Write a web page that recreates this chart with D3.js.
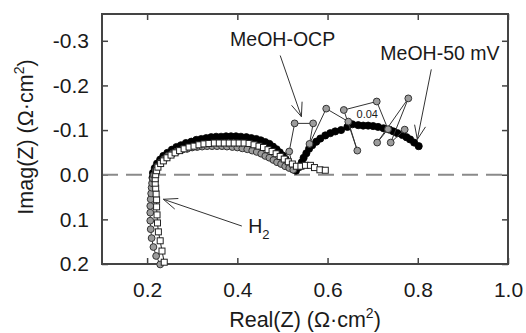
<!DOCTYPE html>
<html>
<head>
<meta charset="utf-8">
<script src="https://cdn.jsdelivr.net/npm/d3@7"></script>
<style>
  body { margin: 0; background: #fff; }
  text { font-family: "Liberation Sans", Arial, Helvetica, sans-serif; fill: #1a1a1a; }
</style>
</head>
<body>
<svg id="chart" width="526" height="333"></svg>
<script>
// Axis ticks
const xTicks = [0.2, 0.4, 0.6, 0.8, 1.0];
const yTicks = [-0.3, -0.2, -0.1, 0.0, 0.1, 0.2];

// H2 (open squares): real and imaginary parts, Ω·cm²
const h2Re = [0.238, 0.233, 0.229, 0.225, 0.223, 0.222, 0.221, 0.221, 0.220, 0.219, 0.218, 0.218, 0.219,
  0.221, 0.224, 0.230, 0.236, 0.244, 0.253, 0.262, 0.272, 0.282, 0.293, 0.304, 0.315, 0.326, 0.337,
  0.349, 0.360, 0.371, 0.382, 0.393, 0.404, 0.415, 0.426, 0.437, 0.448, 0.458, 0.468, 0.477, 0.486,
  0.495, 0.504, 0.513, 0.522, 0.531, 0.541, 0.551, 0.562, 0.571, 0.583, 0.595];
const h2Im = [0.196, 0.171, 0.148, 0.128, 0.108, 0.090, 0.072, 0.056, 0.043, 0.030, 0.019, 0.009, 0.000,
  -0.009, -0.017, -0.025, -0.031, -0.038, -0.044, -0.049, -0.054, -0.058, -0.062, -0.064, -0.067, -0.069, -0.070,
  -0.071, -0.071, -0.071, -0.071, -0.071, -0.071, -0.071, -0.070, -0.067, -0.064, -0.061, -0.056, -0.052, -0.047,
  -0.041, -0.035, -0.029, -0.024, -0.019, -0.019, -0.021, -0.021, -0.016, -0.011, -0.010];

// MeOH at open circuit potential (grey circles)
const ocpRe = [0.229, 0.220, 0.214, 0.210, 0.208, 0.207, 0.207, 0.207, 0.208, 0.209, 0.210, 0.211, 0.213, 0.215,
  0.219, 0.223, 0.230, 0.238, 0.246, 0.256, 0.266, 0.278, 0.289, 0.300, 0.311, 0.322, 0.333, 0.344,
  0.355, 0.366, 0.377, 0.389, 0.400, 0.411, 0.422, 0.433, 0.443, 0.453, 0.462, 0.471, 0.480, 0.488,
  0.497, 0.506, 0.515, 0.524,
  0.515, 0.527, 0.568, 0.560, 0.597, 0.646, 0.666, 0.636, 0.709, 0.734, 0.710, 0.779, 0.740, 0.771];
const ocpIm = [0.201, 0.182, 0.162, 0.142, 0.122, 0.103, 0.085, 0.070, 0.055, 0.042, 0.029, 0.019, 0.009, 0.001,
  -0.009, -0.018, -0.027, -0.035, -0.042, -0.047, -0.052, -0.056, -0.058, -0.061, -0.062, -0.063, -0.064, -0.064,
  -0.064, -0.064, -0.063, -0.062, -0.061, -0.059, -0.057, -0.054, -0.051, -0.047, -0.042, -0.038, -0.033, -0.028,
  -0.024, -0.019, -0.015, -0.011,
  -0.052, -0.115, -0.115, -0.069, -0.148, -0.119, -0.054, -0.145, -0.164, -0.102, -0.072, -0.171, -0.072, -0.101];

// MeOH at 50 mV (black circles)
const mv50Re = [0.212, 0.213, 0.217, 0.222, 0.229, 0.236, 0.245, 0.255, 0.265, 0.275, 0.286, 0.298, 0.309,
  0.320, 0.331, 0.342, 0.353, 0.364, 0.375, 0.386, 0.397, 0.408, 0.420, 0.431, 0.442, 0.452, 0.462,
  0.471, 0.479, 0.487, 0.494, 0.501, 0.507, 0.513, 0.518, 0.524, 0.530,
  0.537, 0.543, 0.547, 0.553, 0.559, 0.566, 0.575, 0.584, 0.595, 0.606, 0.617, 0.630, 0.644, 0.655,
  0.668, 0.679, 0.690, 0.701, 0.712, 0.724, 0.737, 0.746, 0.755, 0.766, 0.775, 0.783, 0.792, 0.802];
const mv50Im = [0.007, -0.004, -0.015, -0.025, -0.034, -0.042, -0.049, -0.056, -0.062, -0.066, -0.071, -0.074, -0.078,
  -0.080, -0.082, -0.084, -0.085, -0.085, -0.086, -0.086, -0.086, -0.085, -0.084, -0.082, -0.080, -0.077, -0.073,
  -0.069, -0.063, -0.057, -0.050, -0.043, -0.035, -0.027, -0.019, -0.012, -0.009,
  -0.017, -0.028, -0.038, -0.048, -0.058, -0.066, -0.074, -0.081, -0.088, -0.093, -0.097, -0.100, -0.107, -0.113,
  -0.111, -0.110, -0.110, -0.109, -0.107, -0.104, -0.101, -0.097, -0.093, -0.089, -0.084, -0.079, -0.072, -0.064];

const zip = (re, im) => re.map((r, i) => [r, im[i]]);

const svg = d3.select("#chart");
const plot = { left: 102, right: 508, top: 14, bottom: 264 };

const x = d3.scaleLinear().domain([0.1, 1.0]).range([plot.left, plot.right]);
const y = d3.scaleLinear().domain([-0.36, 0.2]).range([plot.top, plot.bottom]);

const fmt = d => d.toFixed(1);
const axisColor = "#444";

// Axes: ticks point inward on all four sides
const gB = svg.append("g").attr("transform", `translate(0,${plot.bottom})`)
  .call(d3.axisBottom(x).tickValues(xTicks).tickFormat(fmt).tickSize(-6).tickPadding(18));
const gT = svg.append("g").attr("transform", `translate(0,${plot.top})`)
  .call(d3.axisTop(x).tickValues(xTicks).tickFormat("").tickSize(-6));
const gL = svg.append("g").attr("transform", `translate(${plot.left},0)`)
  .call(d3.axisLeft(y).tickValues(yTicks).tickFormat(fmt).tickSize(-6).tickPadding(13));
const gR = svg.append("g").attr("transform", `translate(${plot.right},0)`)
  .call(d3.axisRight(y).tickValues(yTicks).tickFormat("").tickSize(-6));

[gB, gT, gL, gR].forEach(g => {
  g.select(".domain").remove();
  g.selectAll(".tick line").attr("stroke", axisColor).attr("stroke-width", 1.5);
  g.selectAll(".tick text").attr("font-size", 21).attr("fill", "#1a1a1a")
    .attr("font-family", "'Liberation Sans', Arial, sans-serif");
});

// Zero line
svg.append("line")
  .attr("x1", x(0.1)).attr("x2", x(1.0)).attr("y1", y(0)).attr("y2", y(0))
  .attr("stroke", "#8a8a8a").attr("stroke-width", 2).attr("stroke-dasharray", "16,8");

// Frame
svg.append("rect")
  .attr("x", plot.left).attr("y", plot.top)
  .attr("width", plot.right - plot.left).attr("height", plot.bottom - plot.top)
  .attr("fill", "none").attr("stroke", axisColor).attr("stroke-width", 2);

const line = d3.line().x(d => x(d[0])).y(d => y(d[1]));

// MeOH-50 mV
const mv50 = zip(mv50Re, mv50Im);
svg.append("path").datum(mv50).attr("d", line)
  .attr("fill", "none").attr("stroke", "#000").attr("stroke-width", 1.5);
svg.append("g").selectAll("circle").data(mv50).join("circle")
  .attr("cx", d => x(d[0])).attr("cy", d => y(d[1])).attr("r", 3.6)
  .attr("fill", "#000").attr("stroke", "#000").attr("stroke-width", 0.8);

// MeOH-OCP
const ocp = zip(ocpRe, ocpIm);
svg.append("path").datum(ocp).attr("d", line)
  .attr("fill", "none").attr("stroke", "#333").attr("stroke-width", 1);
svg.append("g").selectAll("circle").data(ocp).join("circle")
  .attr("cx", d => x(d[0])).attr("cy", d => y(d[1])).attr("r", 3.4)
  .attr("fill", "#9c9c9c").attr("stroke", "#333").attr("stroke-width", 1);

// H2
const h2 = zip(h2Re, h2Im);
svg.append("path").datum(h2).attr("d", line)
  .attr("fill", "none").attr("stroke", "#222").attr("stroke-width", 1);
svg.append("g").selectAll("rect").data(h2).join("rect")
  .attr("x", d => x(d[0]) - 3).attr("y", d => y(d[1]) - 3)
  .attr("width", 6).attr("height", 6)
  .attr("fill", "#fff").attr("stroke", "#222").attr("stroke-width", 1);

// Frequency label
svg.append("text").attr("x", x(0.688)).attr("y", y(-0.128))
  .attr("text-anchor", "middle").attr("font-size", 11).attr("fill", "#333").text("0.04");

// Annotation arrows with open heads
function arrow(from, to) {
  const x1 = x(from[0]), y1 = y(from[1]), x2 = x(to[0]), y2 = y(to[1]);
  const a = Math.atan2(y2 - y1, x2 - x1), len = 15, spread = 0.38;
  const g = svg.append("g").attr("stroke", "#333").attr("stroke-width", 1).attr("fill", "none");
  g.append("line").attr("x1", x1).attr("y1", y1).attr("x2", x2).attr("y2", y2);
  g.append("path").attr("d",
    `M${x2 - len * Math.cos(a - spread)},${y2 - len * Math.sin(a - spread)}L${x2},${y2}` +
    `L${x2 - len * Math.cos(a + spread)},${y2 - len * Math.sin(a + spread)}`);
}
arrow([0.495, -0.267], [0.542, -0.130]);
arrow([0.830, -0.236], [0.799, -0.079]);
arrow([0.410, 0.115], [0.236, 0.055]);

svg.append("text").attr("x", x(0.384)).attr("y", y(-0.288)).attr("font-size", 19.5).text("MeOH-OCP");
svg.append("text").attr("x", x(0.717)).attr("y", y(-0.256)).attr("font-size", 19.5).text("MeOH-50 mV");
const h2Label = svg.append("text").attr("x", x(0.424)).attr("y", y(0.130)).attr("font-size", 19.5);
h2Label.append("tspan").text("H");
h2Label.append("tspan").attr("font-size", 13).attr("dy", 6).text("2");

// Axis titles
const xt = svg.append("text").attr("x", (plot.left + plot.right) / 2).attr("y", 326.5)
  .attr("text-anchor", "middle").attr("font-size", 21.5);
xt.append("tspan").text("Real(Z) (\u03A9\u00B7cm");
xt.append("tspan").attr("font-size", 14).attr("dy", -9).text("2");
xt.append("tspan").attr("dy", 9).text(")");

const yt = svg.append("text").attr("transform", "translate(33,137) rotate(-90)")
  .attr("text-anchor", "middle").attr("font-size", 21.5);
yt.append("tspan").text("Imag(Z) (\u03A9\u00B7cm");
yt.append("tspan").attr("font-size", 14).attr("dy", -9).text("2");
yt.append("tspan").attr("dy", 9).text(")");
</script>
</body>
</html>
